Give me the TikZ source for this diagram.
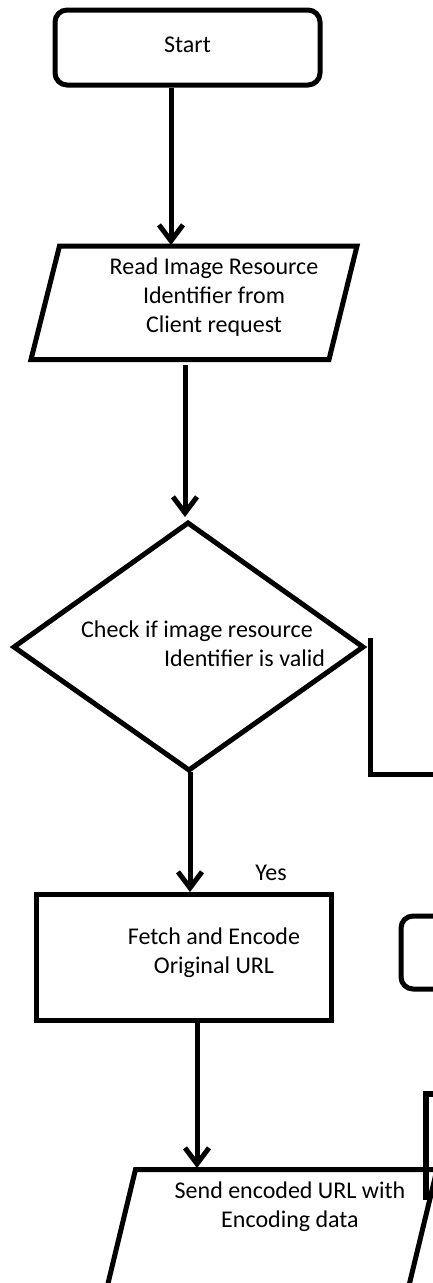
\documentclass[tikz,border=0pt]{standalone}
\usepackage{fontspec}
\setmainfont{Carlito}
\usetikzlibrary{arrows.meta}
\begin{document}
\begin{tikzpicture}[x=1pt,y=-1pt,
  shapeline/.style={line width=5pt, line join=miter},
  conn/.style={line width=5pt, -{Straight Barb[length=16pt,width=24pt]}},
  plain/.style={line width=5pt},
  txt/.style={font=\fontsize{24}{29}\selectfont, align=center, inner sep=0pt},
]
\useasboundingbox (0,0) rectangle (433,1283);
\fill[white] (0,0) rectangle (433,1283);
\clip (0,0) rectangle (433,1283);

% Start
\node[shapeline, draw, rounded corners=12pt, minimum width=265pt, minimum height=75pt,
      txt, text depth=5pt] (start) at (187.5,47.5) {Start};

% Read parallelogram
\coordinate (rTL) at (59.5,246);
\coordinate (rTR) at (357,246);
\coordinate (rBR) at (329,359.5);
\coordinate (rBL) at (31,359.5);
\draw[shapeline] (rTL) -- (rTR) -- (rBR) -- (rBL) -- cycle;
\node[txt] (read) at (214,297) {Read Image Resource\\Identifier from\\Client request};

% Decision diamond
\coordinate (dT) at (188,523);
\coordinate (dR) at (363,647);
\coordinate (dB) at (189,770);
\coordinate (dL) at (14,647);
\draw[shapeline] (dT) -- (dR) -- (dB) -- (dL) -- cycle;
\node[txt, align=left, anchor=west] (check) at (81,644)
  {Check if image resource\\\hspace*{83pt}Identifier is valid};

% Fetch rectangle
\node[shapeline, draw, minimum width=294.5pt, minimum height=126pt] (fetch) at (183.75,957.5) {};
\node[txt] (fetchtxt) at (214,952.5) {Fetch and Encode\\Original URL};

% Yes label
\node[txt] (yes) at (271,873) {Yes};

% Send parallelogram
\coordinate (sTL) at (135.5,1169.5);
\coordinate (sTR) at (437,1169.5);
\coordinate (sBR) at (409,1285.5);
\coordinate (sBL) at (107.5,1285.5);
\draw[shapeline] (sTL) -- (sTR) -- (sBR) -- (sBL) -- cycle;
\node[txt] (send) at (290,1206.5) {Send encoded URL with\\Encoding data};

% Partial shapes at the right edge
\node[shapeline, draw, rounded corners=12pt, minimum width=79pt, minimum height=73pt] (side) at (440.5,952.5) {};
\coordinate (bx1) at (426,1200);
\coordinate (bx2) at (426,1094);
\coordinate (bx3) at (445,1094);
\draw[line width=6pt, line join=miter] (bx1) -- (bx2) -- (bx3);

% No-branch line from decision
\coordinate (n1) at (370,638);
\coordinate (n2) at (370,774.5);
\coordinate (n3) at (445,774.5);
\draw[plain, line join=miter] (n1) -- (n2) -- (n3);

% Connectors
\coordinate (c1a) at (171,87);   \coordinate (c1b) at (171,245);
\coordinate (c2a) at (185,365);  \coordinate (c2b) at (185,517);
\coordinate (c3a) at (190,772);  \coordinate (c3b) at (190,892);
\coordinate (c4a) at (197,1023); \coordinate (c4b) at (197,1168);
\draw[conn] (start.south -| c1a) -- (c1b);
\draw[conn] (c2a) -- (c2b);
\draw[conn] (c3a) -- (c3b);
\draw[conn] (fetch.south -| c4a) -- (c4b);
\end{tikzpicture}
\end{document}
